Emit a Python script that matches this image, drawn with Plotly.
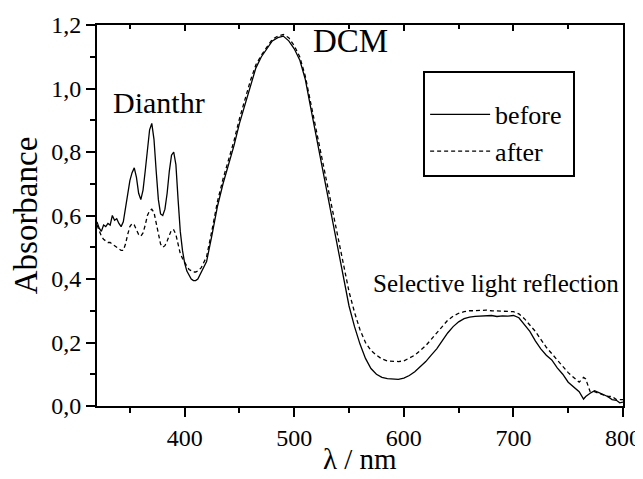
import plotly.graph_objects as go

wavelength = [320,322,324,326,328,330,332,334,336,338,340,342,344,346,348,350,352,354,356,358,
              360,362,364,366,368,370,372,374,376,378,380,382,384,386,388,390,392,394,396,398,
              400,402,404,406,408,410,412,415,420,425,430,435,440,445,450,455,460,465,470,475,
              480,485,490,495,500,505,510,515,520,525,530,535,540,545,550,555,560,565,570,575,
              580,585,590,595,600,605,610,615,620,625,630,635,640,645,650,655,660,665,670,675,
              680,685,690,695,700,705,710,715,720,725,730,735,740,745,750,755,760,764,766,770,
              774,778,782,786,790,794,797,800]

before = [0.58,0.56,0.55,0.57,0.565,0.575,0.57,0.60,0.585,0.59,0.575,0.565,0.58,0.62,0.67,0.71,0.735,0.75,0.72,0.67,
          0.65,0.68,0.74,0.81,0.87,0.89,0.84,0.74,0.65,0.605,0.60,0.62,0.67,0.74,0.79,0.80,0.76,0.65,0.55,0.49,
          0.45,0.425,0.41,0.40,0.395,0.395,0.40,0.42,0.455,0.54,0.63,0.70,0.76,0.82,0.89,0.95,1.01,1.065,1.10,1.125,
          1.15,1.16,1.165,1.15,1.125,1.09,1.03,0.94,0.85,0.76,0.67,0.58,0.49,0.40,0.315,0.25,0.195,0.15,0.118,0.10,
          0.09,0.086,0.084,0.084,0.088,0.096,0.108,0.123,0.14,0.16,0.18,0.205,0.23,0.25,0.265,0.275,0.28,0.282,0.283,0.283,
          0.285,0.282,0.284,0.283,0.285,0.278,0.255,0.235,0.205,0.18,0.16,0.145,0.12,0.10,0.075,0.06,0.045,0.022,0.03,0.04,
          0.048,0.042,0.035,0.03,0.02,0.018,0.01,0.012]

after = [0.57,0.55,0.535,0.525,0.52,0.515,0.515,0.51,0.505,0.50,0.495,0.49,0.49,0.51,0.54,0.565,0.575,0.57,0.555,0.54,
         0.535,0.545,0.57,0.60,0.615,0.62,0.61,0.58,0.54,0.51,0.50,0.505,0.52,0.54,0.555,0.555,0.54,0.51,0.48,0.465,
         0.45,0.44,0.43,0.425,0.422,0.422,0.425,0.435,0.47,0.555,0.645,0.715,0.775,0.835,0.905,0.965,1.025,1.075,1.105,1.13,
         1.155,1.165,1.17,1.16,1.135,1.10,1.04,0.955,0.87,0.785,0.70,0.61,0.525,0.44,0.36,0.295,0.24,0.20,0.175,0.16,
         0.148,0.142,0.14,0.14,0.142,0.15,0.16,0.175,0.19,0.21,0.23,0.25,0.27,0.283,0.292,0.297,0.30,0.30,0.302,0.302,
         0.30,0.30,0.30,0.298,0.297,0.29,0.275,0.255,0.235,0.21,0.185,0.165,0.145,0.125,0.105,0.09,0.075,0.09,0.085,0.045,
         0.045,0.04,0.035,0.03,0.03,0.02,0.02,0.02]

x_ticks = [400, 500, 600, 700, 800]
x_tick_labels = ["400", "500", "600", "700", "800"]
y_ticks = [0.0, 0.2, 0.4, 0.6, 0.8, 1.0, 1.2]
y_tick_labels = ["0,0", "0,2", "0,4", "0,6", "0,8", "1,0", "1,2"]

FONT = "Liberation Serif"

fig = go.Figure()
fig.add_trace(go.Scatter(x=wavelength, y=before, mode="lines", name="before ", legendgroup="a",
                         line=dict(color="black", width=1.3)))
fig.add_trace(go.Scatter(x=wavelength, y=after, mode="lines", name="after", legendgroup="b",
                         line=dict(color="black", width=1.3, dash="4px,3px")))
# invisible trace to carry the top axis
fig.add_trace(go.Scatter(x=[320, 800], y=[0, 0], xaxis="x2", mode="lines",
                         line=dict(width=0), showlegend=False, hoverinfo="skip"))

# the page body adds an 8px margin, so the figure is sized to fit the 643x479 window
fig.update_layout(
    width=635, height=471,
    margin=dict(l=89, r=20, t=17, b=73),
    paper_bgcolor="white", plot_bgcolor="white",
    font=dict(family=FONT, color="black", size=24),
    showlegend=True,
    legend=dict(x=0.62, y=0.88, xanchor="left", yanchor="top",
                bordercolor="black", borderwidth=2, bgcolor="white",
                font=dict(family=FONT, size=26), itemwidth=60,
                title=dict(text=" ", font=dict(family=FONT, size=14)),
                tracegroupgap=0),
    xaxis=dict(range=[320, 800], showgrid=False, zeroline=False, automargin=False,
               showline=True, linecolor="black", linewidth=2, mirror=False,
               ticks="outside", ticklen=9, tickwidth=2, tickcolor="black",
               tickvals=x_ticks, ticktext=x_tick_labels,
               tickfont=dict(family=FONT, size=24),
               minor=dict(dtick=50, tick0=350, ticks="outside", ticklen=5, tickwidth=2, tickcolor="black")),
    xaxis2=dict(range=[320, 800], overlaying="x", side="top", showgrid=False, zeroline=False,
                automargin=False,
                showline=True, linecolor="black", linewidth=2,
                ticks="inside", ticklen=6, tickwidth=2, tickcolor="black",
                tickvals=x_ticks, showticklabels=False,
                minor=dict(dtick=50, tick0=350, ticks="inside", ticklen=4, tickwidth=2, tickcolor="black")),
    yaxis=dict(range=[0, 1.2], showgrid=False, zeroline=False, automargin=False,
               showline=True, linecolor="black", linewidth=2, mirror=True,
               ticks="outside", ticklen=9, tickwidth=2, tickcolor="black",
               tickvals=y_ticks, ticktext=y_tick_labels,
               tickfont=dict(family=FONT, size=24),
               minor=dict(dtick=0.1, tick0=0.1, ticks="outside", ticklen=5, tickwidth=2, tickcolor="black"),
               title=dict(text="Absorbance", font=dict(family=FONT, size=33), standoff=12)),
    annotations=[
        dict(x=0.5, y=-0.14, xref="paper", yref="paper", text="λ / nm", showarrow=False,
             xanchor="center", yanchor="middle", font=dict(family=FONT, size=29)),
        dict(x=376.5, y=0.955, text="Dianthr", showarrow=False, font=dict(family=FONT, size=30)),
        dict(x=551, y=1.15, text="DCM", showarrow=False, font=dict(family=FONT, size=33)),
        dict(x=684, y=0.385, text="Selective light reflection", showarrow=False, font=dict(family=FONT, size=25)),
    ],
)

fig.write_html("out.html")
